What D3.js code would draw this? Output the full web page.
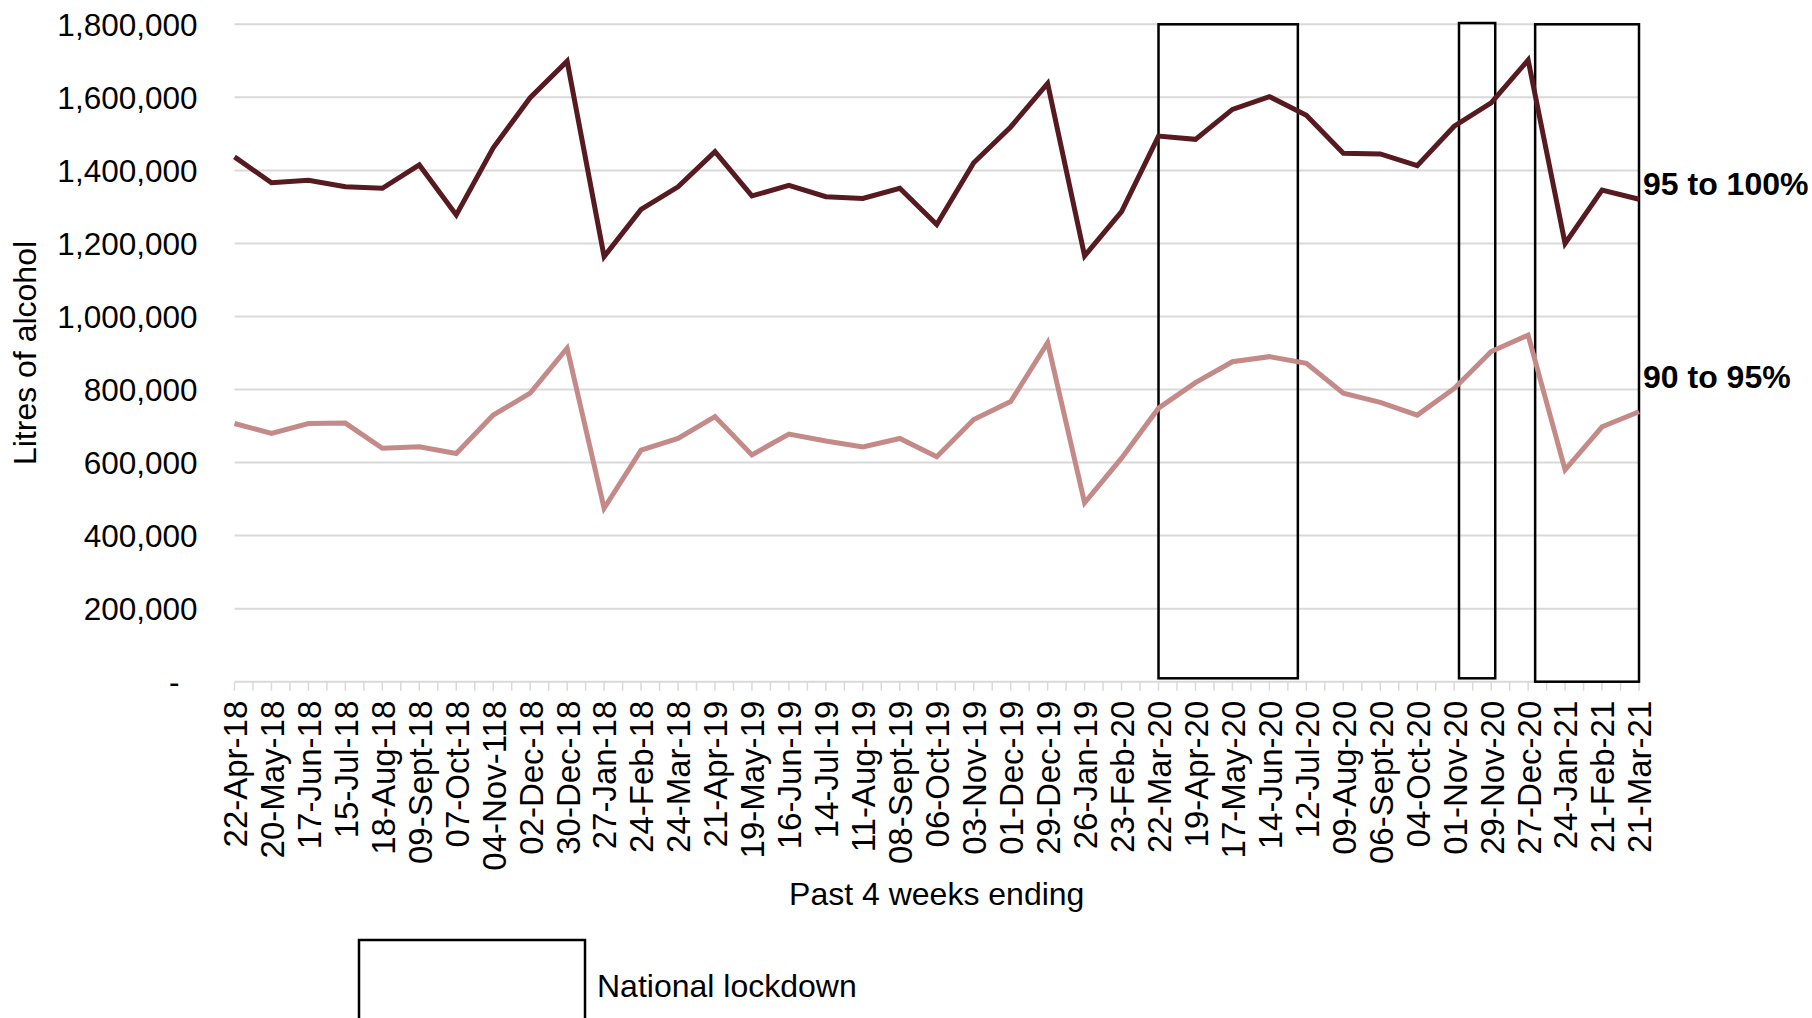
<!DOCTYPE html>
<html>
<head>
<meta charset="utf-8">
<script src="https://cdn.jsdelivr.net/npm/d3@7"></script>
<style>
  body { margin: 0; background: #fff; }
  svg text { font-family: "Liberation Sans", Arial, sans-serif; fill: #000; }
</style>
</head>
<body>
<div id="chart"></div>
<script>
// categories (4-week periods ending)
var periods = ["22-Apr-18", "20-May-18", "17-Jun-18", "15-Jul-18", "18-Aug-18", "09-Sept-18",
  "07-Oct-18", "04-Nov-118", "02-Dec-18", "30-Dec-18", "27-Jan-18", "24-Feb-18", "24-Mar-18",
  "21-Apr-19", "19-May-19", "16-Jun-19", "14-Jul-19", "11-Aug-19", "08-Sept-19", "06-Oct-19",
  "03-Nov-19", "01-Dec-19", "29-Dec-19", "26-Jan-19", "23-Feb-20", "22-Mar-20", "19-Apr-20",
  "17-May-20", "14-Jun-20", "12-Jul-20", "09-Aug-20", "06-Sept-20", "04-Oct-20", "01-Nov-20",
  "29-Nov-20", "27-Dec-20", "24-Jan-21", "21-Feb-21", "21-Mar-21"];

// litres of alcohol, 95 to 100% ABV
var abv95to100 = [1437000, 1366000, 1373000, 1355000, 1351000, 1415000, 1278000, 1462000,
  1599000, 1699000, 1164000, 1293000, 1355000, 1451000, 1330000, 1359000, 1328000, 1323000,
  1351000, 1252000, 1421000, 1519000, 1638000, 1166000, 1287000, 1494000, 1485000, 1567000,
  1602000, 1551000, 1447000, 1445000, 1413000, 1521000, 1585000, 1702000, 1200000, 1346000,
  1321000];

// litres of alcohol, 90 to 95% ABV
var abv90to95 = [707000, 680000, 707000, 708000, 639000, 643000, 625000, 730000, 790000,
  913000, 475000, 634000, 666000, 726000, 621000, 678000, 659000, 643000, 666000, 616000,
  718000, 767000, 928000, 490000, 612000, 749000, 819000, 876000, 890000, 872000, 790000,
  765000, 730000, 803000, 904000, 949000, 580000, 698000, 739000];

var seriesNames = ["95 to 100%", "90 to 95%"];
var seriesColors = ["#561a20", "#c48a88"];
var seriesLabelAt = [1362000, 834000];

var yTicks = [0, 200000, 400000, 600000, 800000, 1000000, 1200000, 1400000, 1600000, 1800000];

// lockdown periods, in category-index units
var lockStart = [25, 33.13, 35.19];
var lockEnd = [28.77, 34.11, 38];
var lockTop = [1800000, 1803500, 1800000];
var lockBottom = [9300, 9300, 0];

var width = 1812, height = 1018;
var plotL = 234.5, plotR = 1639, plotT = 24.3, plotB = 681.7;

var svg = d3.select("#chart").append("svg")
    .attr("width", width)
    .attr("height", height);

var x = d3.scalePoint().domain(periods).range([plotL, plotR]);
var xi = d3.scaleLinear().domain([0, periods.length - 1]).range([plotL, plotR]);
var y = d3.scaleLinear().domain([0, 1800000]).range([plotB, plotT]);

var fmt = d3.format(",d");

// gridlines
svg.append("g")
    .selectAll("line")
    .data(yTicks.filter(function(d) { return d > 0; }))
    .enter().append("line")
    .attr("x1", plotL).attr("x2", plotR)
    .attr("y1", function(d) { return y(d); })
    .attr("y2", function(d) { return y(d); })
    .attr("stroke", "#d9d9d9")
    .attr("stroke-width", 2);

// y axis labels
var yAxis = svg.append("g")
    .attr("transform", "translate(" + (plotL - 37) + ",0)")
    .call(d3.axisLeft(y).tickValues(yTicks).tickSize(0).tickPadding(0)
        .tickFormat(function(d) { return d === 0 ? "-" : fmt(d); }));
yAxis.select(".domain").remove();
yAxis.selectAll("text")
    .attr("font-size", 31.5)
    .attr("font-family", "Liberation Sans, Arial, sans-serif")
    .attr("fill", "#000")
    .attr("dy", "0.34em")
    .attr("dx", function(d) { return d === 0 ? -18 : 0; });

// x axis line with ticks at every half category
svg.append("line")
    .attr("x1", plotL).attr("x2", plotR)
    .attr("y1", y(0)).attr("y2", y(0))
    .attr("stroke", "#d9d9d9")
    .attr("stroke-width", 2);

svg.append("g")
    .selectAll("line")
    .data(d3.range(0, periods.length - 0.99, 0.5))
    .enter().append("line")
    .attr("x1", function(d) { return xi(d); })
    .attr("x2", function(d) { return xi(d); })
    .attr("y1", y(0))
    .attr("y2", y(0) + 9)
    .attr("stroke", "#d9d9d9")
    .attr("stroke-width", 1.5);

var xAxis = svg.append("g")
    .attr("transform", "translate(0," + (y(0) + 19) + ")")
    .call(d3.axisBottom(x).tickSize(0).tickPadding(0));
xAxis.select(".domain").remove();
xAxis.selectAll("text")
    .attr("font-size", 33)
    .attr("font-family", "Liberation Sans, Arial, sans-serif")
    .attr("fill", "#000")
    .attr("text-anchor", "end")
    .attr("transform", "rotate(-90)")
    .attr("x", 0)
    .attr("y", 0)
    .attr("dy", "0.36em");

// lockdown boxes
var locks = lockStart.map(function(s, i) {
    return { s: s, e: lockEnd[i], t: lockTop[i], b: lockBottom[i] };
});
svg.append("g")
    .selectAll("rect")
    .data(locks)
    .enter().append("rect")
    .attr("x", function(d) { return xi(d.s); })
    .attr("y", function(d) { return y(d.t); })
    .attr("width", function(d) { return xi(d.e) - xi(d.s); })
    .attr("height", function(d) { return y(d.b) - y(d.t); })
    .attr("fill", "none")
    .attr("stroke", "#000")
    .attr("stroke-width", 2.5);

// lines
var line = d3.line()
    .x(function(d, i) { return x(periods[i]); })
    .y(function(d) { return y(d); });

[abv90to95, abv95to100].forEach(function(vals, k) {
    var idx = k === 0 ? 1 : 0;
    svg.append("path")
        .datum(vals)
        .attr("d", line)
        .attr("fill", "none")
        .attr("stroke", seriesColors[idx])
        .attr("stroke-width", 5)
        .attr("stroke-linejoin", "miter");
});

// series labels
svg.append("g")
    .selectAll("text")
    .data(seriesNames)
    .enter().append("text")
    .attr("x", plotR + 4)
    .attr("y", function(d, i) { return y(seriesLabelAt[i]); })
    .attr("dy", "0.35em")
    .attr("font-size", 32)
    .attr("font-weight", "bold")
    .text(function(d) { return d; });

// axis titles
svg.append("text")
    .attr("transform", "translate(36," + ((plotT + plotB) / 2) + ") rotate(-90)")
    .attr("text-anchor", "middle")
    .attr("font-size", 32)
    .text("Litres of alcohol");

svg.append("text")
    .attr("x", (plotL + plotR) / 2)
    .attr("y", 905)
    .attr("text-anchor", "middle")
    .attr("font-size", 32)
    .text("Past 4 weeks ending");

// legend
svg.append("rect")
    .attr("x", 359).attr("y", 940)
    .attr("width", 226).attr("height", 100)
    .attr("fill", "none")
    .attr("stroke", "#000")
    .attr("stroke-width", 2.5);
svg.append("text")
    .attr("x", 597)
    .attr("y", 997)
    .attr("font-size", 32)
    .text("National lockdown");
</script>
</body>
</html>
